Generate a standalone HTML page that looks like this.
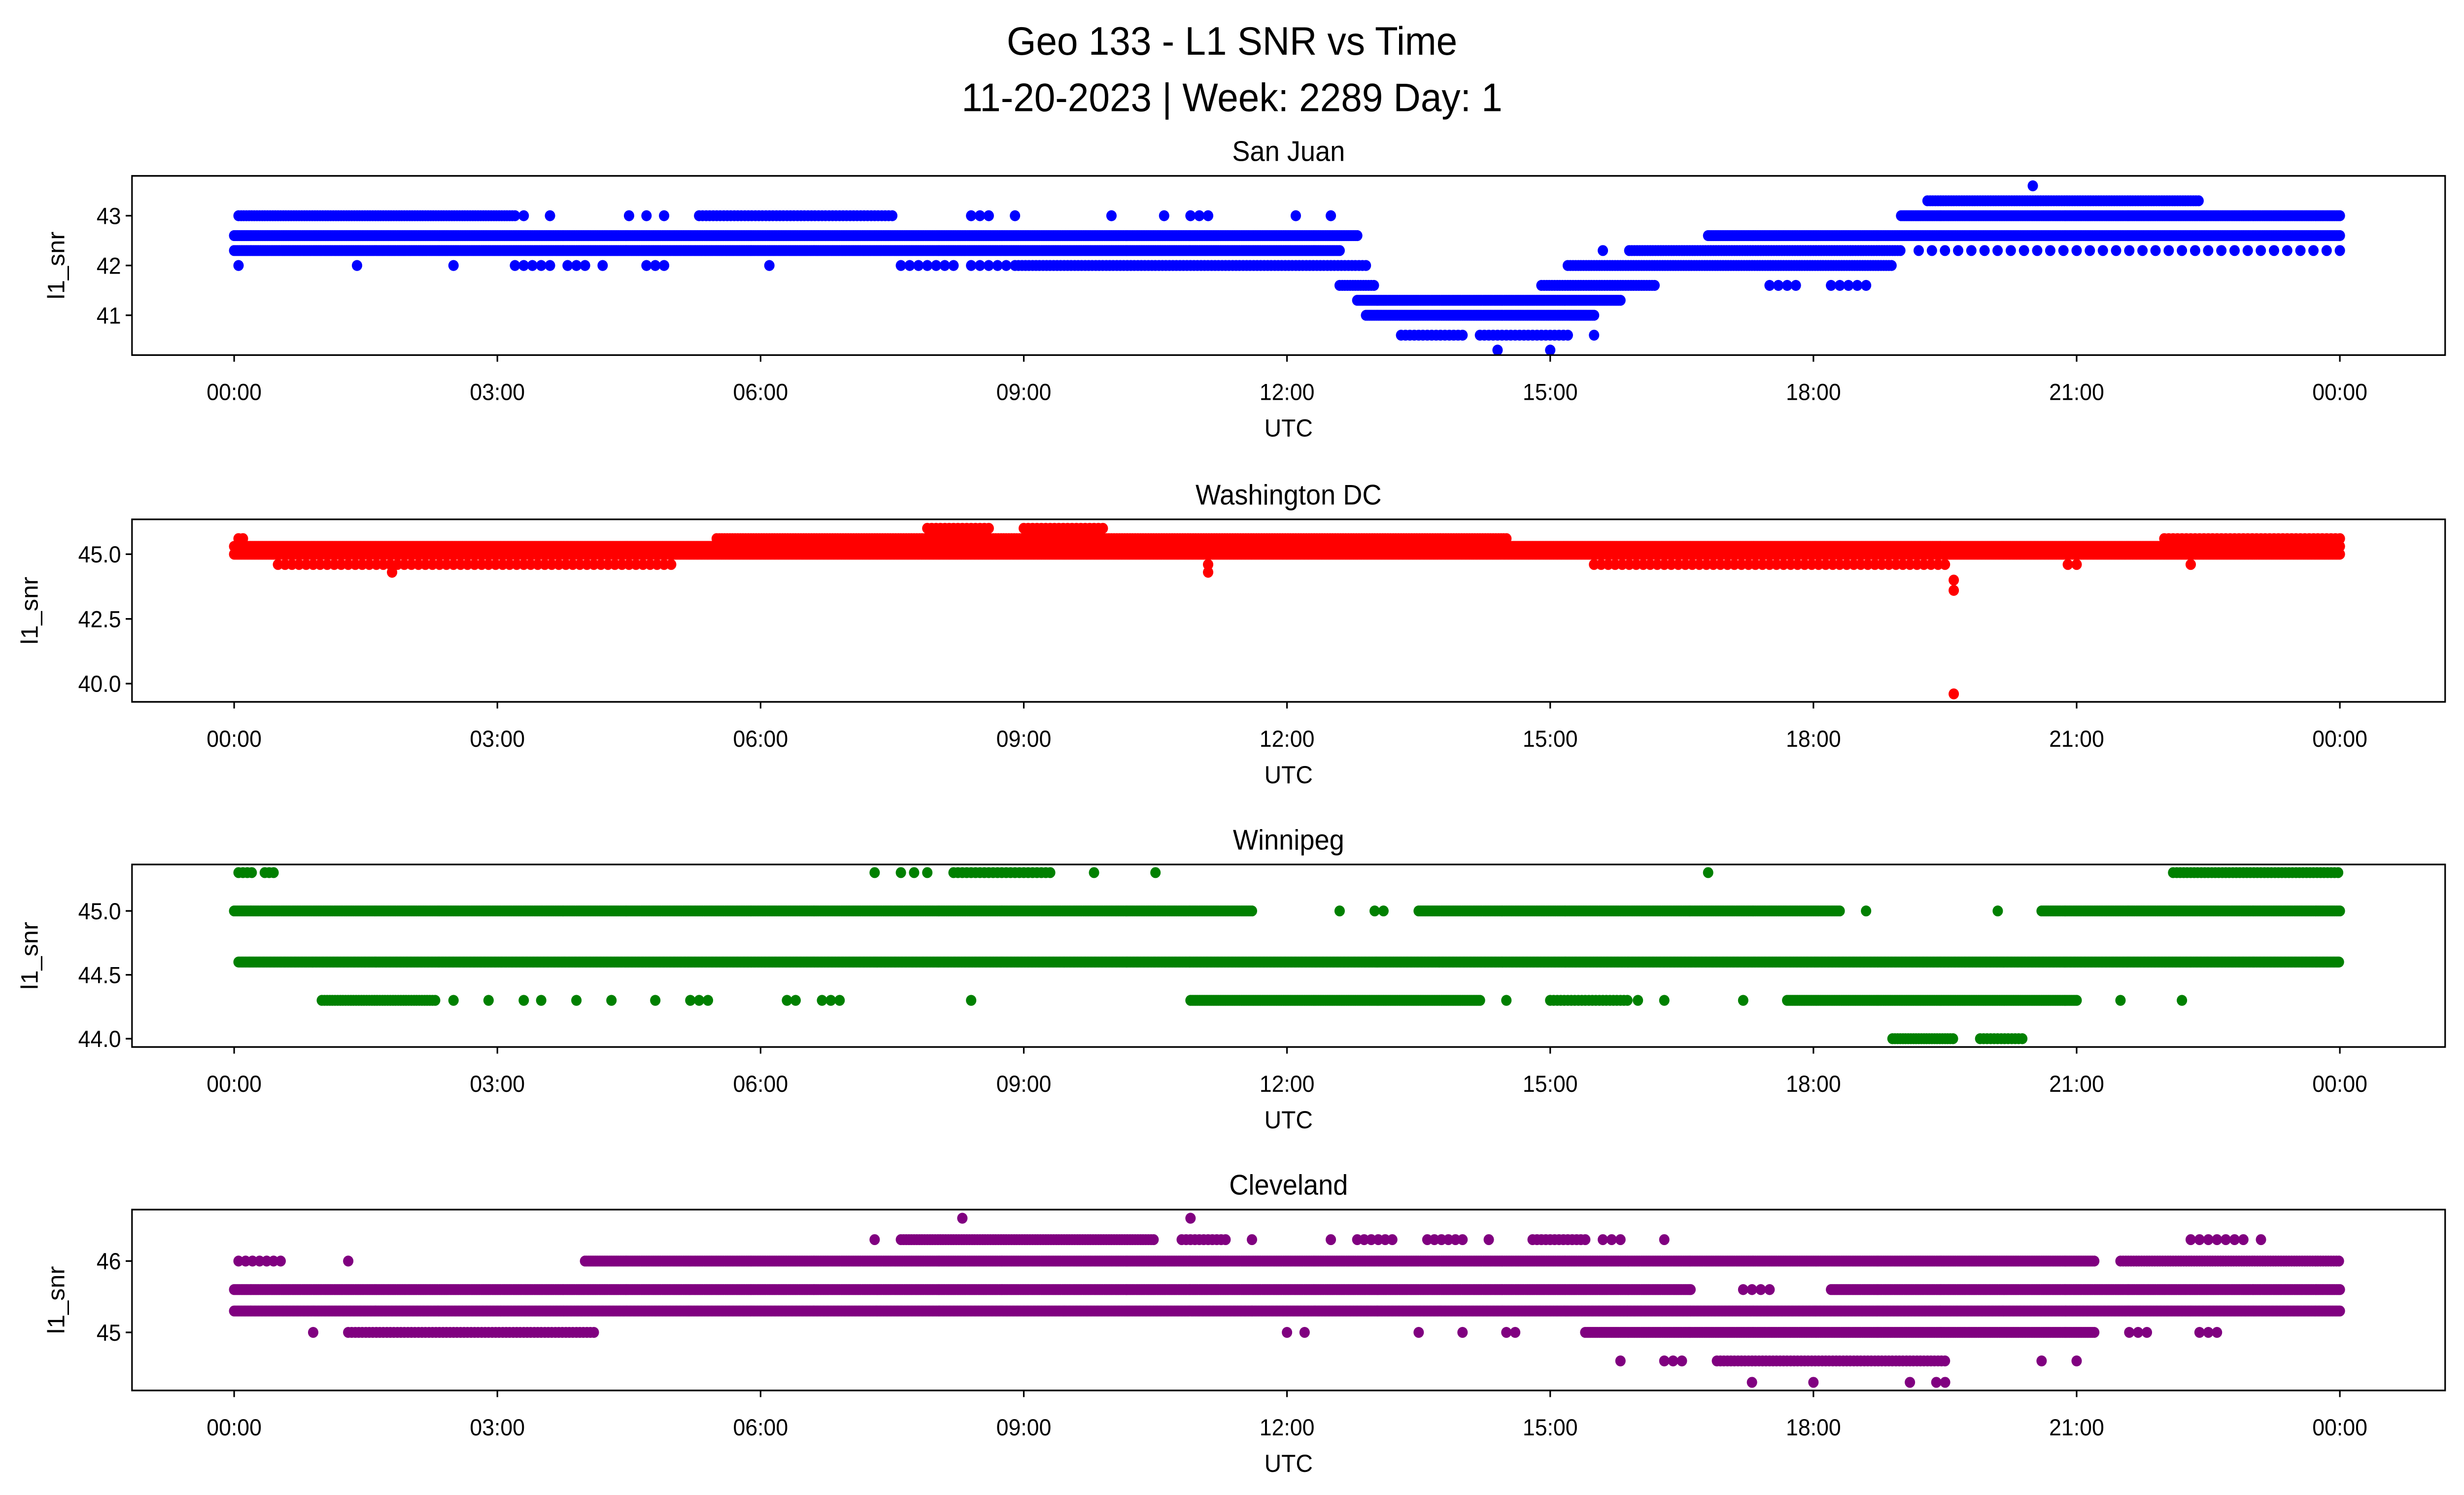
<!DOCTYPE html>
<html><head><meta charset="utf-8"><style>
html,body{margin:0;padding:0;background:#fff;width:100%;height:100%;overflow:hidden}
svg{display:block;position:absolute;left:0;top:0;width:100vw;height:100vh}
text{font-family:"Liberation Sans","DejaVu Sans",sans-serif;fill:#000}
</style></head><body>
<svg id="fig" viewBox="0 0 1568 901" preserveAspectRatio="none" xmlns="http://www.w3.org/2000/svg">
<rect width="1568" height="901" fill="#fff"/>
<text x="784" y="33" font-size="24" text-anchor="middle">Geo 133 - L1 SNR vs Time</text>
<text x="784" y="67" font-size="24" text-anchor="middle">11-20-2023 | Week: 2289 Day: 1</text>
<g id="plots"></g>
</svg>
<script>
// x ticks (hours)
const xTickHours=[0,3,6,9,12,15,18,21,24];
const xTickLabels=["00:00","03:00","06:00","09:00","12:00","15:00","18:00","21:00","00:00"];
const titles=["San Juan","Washington DC","Winnipeg","Cleveland"];
const colors=["#0000ff","#ff0000","#008000","#800080"];
const yTicks=[[43,42,41],[45,42.5,40],[45,44.5,44],[46,45]];
const yTickLabels=[["43","42","41"],["45.0","42.5","40.0"],["45.0","44.5","44.0"],["46","45"]];
// series segments: [snr level, start hour, end hour, sampling step hours]
const sanJuan=[[42.6,0,12.8,0.02],[42.3,0,12.6,0.02],[43.0,0.05,3.2,0.03],[43.0,3.3,3.6,0.3],[43.0,4.5,4.9,0.2],[43.0,5.3,7.5,0.04],[43.0,8.4,8.6,0.1],[43.0,8.9,8.9,1],[43.0,10.0,10.0,1],[43.0,10.6,10.6,1],[43.0,10.9,11.1,0.1],[43.0,12.1,12.1,1],[43.0,12.5,12.5,1],
[42.0,0.05,0.05,1],[42.0,1.4,1.4,1],[42.0,2.5,2.5,1],[42.0,3.2,3.6,0.1],[42.0,3.8,4.0,0.1],[42.0,4.2,4.2,1],[42.0,4.7,4.9,0.1],[42.0,6.1,6.1,1],[42.0,7.6,8.2,0.1],[42.0,8.4,8.8,0.1],[42.0,8.9,12.9,0.04],
[41.6,12.6,13.0,0.03],[41.3,12.8,15.8,0.02],[41.0,12.9,15.5,0.02],[40.6,13.3,14.0,0.05],[40.6,14.2,15.2,0.05],[40.6,15.5,15.5,1],[40.3,14.4,14.4,1],[40.3,15.0,15.0,1],
[41.6,14.9,16.2,0.03],[42.0,15.2,18.9,0.03],[42.3,15.9,19.0,0.03],[42.3,19.2,24,0.15],[42.6,16.8,24,0.02],[43.0,19.0,24,0.02],[43.3,19.3,22.4,0.03],[43.6,20.5,20.5,1],[41.6,17.5,17.8,0.1],[41.6,18.2,18.6,0.1],[42.3,15.6,15.6,1]];
const dc=[[45.0,0,24,0.015],[45.3,0,24,0.015],[45.6,0.05,0.1,0.05],[45.6,5.5,14.5,0.03],[45.6,22,24,0.05],[46.0,7.9,8.6,0.05],[46.0,9.0,9.9,0.05],[44.6,0.5,5.0,0.08],[44.6,15.5,19.5,0.08],[44.6,11.1,11.1,1],[44.6,20.9,21.0,0.1],[44.6,22.3,22.3,1],[44.3,1.8,1.8,1],[44.3,11.1,11.1,1],[44.0,19.6,19.6,1],[43.6,19.6,19.6,1],[39.6,19.6,19.6,1]];
const winnipeg=[[44.6,0.05,24,0.015],[45.0,0,11.6,0.02],[45.0,12.6,12.6,1],[45.0,13.0,13.1,0.1],[45.0,13.5,18.3,0.02],[45.0,18.6,18.6,1],[45.0,20.1,20.1,1],[45.0,20.6,24,0.02],
[44.3,1.0,2.3,0.03],[44.3,2.5,2.5,1],[44.3,2.9,2.9,1],[44.3,3.3,3.5,0.2],[44.3,3.9,3.9,1],[44.3,4.3,4.3,1],[44.3,4.8,4.8,1],[44.3,5.2,5.4,0.1],[44.3,6.3,6.4,0.1],[44.3,6.7,6.9,0.1],[44.3,8.4,8.4,1],[44.3,10.9,14.2,0.02],[44.3,14.5,14.5,1],[44.3,15.0,15.9,0.04],[44.3,16.0,16.3,0.3],[44.3,17.2,17.2,1],[44.3,17.7,21.0,0.02],[44.3,21.5,21.5,1],[44.3,22.2,22.2,1],
[45.3,0.05,0.2,0.05],[45.3,0.35,0.45,0.05],[45.3,7.3,7.3,1],[45.3,7.6,8.0,0.15],[45.3,8.2,9.3,0.05],[45.3,9.8,9.8,1],[45.3,10.5,10.5,1],[45.3,16.8,16.8,1],[45.3,22.1,24,0.04],
[44.0,18.9,19.6,0.03],[44.0,19.9,20.4,0.04]];
const cleveland=[[45.6,0,16.6,0.02],[45.6,17.2,17.5,0.1],[45.6,18.2,24,0.02],[45.3,0,24,0.015],[46.0,0.05,0.6,0.08],[46.0,1.3,1.3,1],[46.0,4.0,21.2,0.02],[46.0,21.5,24,0.03],
[45.0,0.9,0.9,1],[45.0,1.3,4.1,0.04],[45.0,12.0,12.3,0.2],[45.0,13.5,13.5,1],[45.0,14.0,14.0,1],[45.0,14.5,14.6,0.1],[45.0,15.4,21.2,0.02],[45.0,21.6,21.8,0.1],[45.0,22.4,22.6,0.1],
[46.3,7.3,7.3,1],[46.3,7.6,10.5,0.03],[46.3,10.8,11.3,0.05],[46.3,11.6,11.6,1],[46.3,12.5,12.5,1],[46.3,12.8,13.2,0.08],[46.3,13.6,14.0,0.08],[46.3,14.3,14.3,1],[46.3,14.8,15.4,0.05],[46.3,15.6,15.8,0.1],[46.3,16.3,16.3,1],[46.3,22.3,22.9,0.1],[46.3,23.1,23.1,1],
[46.6,8.3,8.3,1],[46.6,10.9,10.9,1],[44.6,15.8,15.8,1],[44.6,16.3,16.5,0.1],[44.6,16.9,19.5,0.04],[44.6,20.6,20.6,1],[44.6,21.0,21.0,1],[44.3,17.3,17.3,1],[44.3,18.0,18.0,1],[44.3,19.1,19.1,1],[44.3,19.4,19.5,0.1]];
const seriesList=[sanJuan,dc,winnipeg,cleveland];
// layout
const boxes=[[106,214],[313,423],[521,631],[729,838]];
const yRef=[[43,130,30],[45,334,15.6],[45,549,77],[46,760,43]];
const X0=84,X1=1556,xZero=149,pxPerHour=(1489-149)/24;
const NS="http://www.w3.org/2000/svg";
const root=document.getElementById("plots");
function el(tag,attrs,parent){const e=document.createElementNS(NS,tag);for(const k in attrs)e.setAttribute(k,attrs[k]);(parent||root).appendChild(e);return e;}
function xs(h){return xZero+h*pxPerHour;}
for(let p=0;p<4;p++){
  const [top,bot]=boxes[p];
  const ys=v=>yRef[p][1]-(v-yRef[p][0])*yRef[p][2];
  const g=el("g",{});
  
  
  const pts=el("g",{fill:colors[p]},g);
  
  
  for(const [v,a,b,s] of seriesList[p]){
    for(let h=a;h<=b+1e-9;h+=s){
      const c=el("circle",{cx:xs(h).toFixed(1),cy:ys(v).toFixed(1),r:3.3},pts);
      
      
    }
  }
  const frame=el("rect",{x:X0,y:top,width:X1-X0,height:bot-top,fill:"none",stroke:"#000","stroke-width":1},g);
  
  
  const t=el("text",{x:820,y:top-9,"font-size":17,"text-anchor":"middle"},g);t.textContent=titles[p];
  
  
  xTickHours.forEach((h,i)=>{
    el("line",{x1:xs(h),x2:xs(h),y1:bot,y2:bot+4,stroke:"#000"},g);
    const tl=el("text",{x:xs(h),y:bot+27,"font-size":14,"text-anchor":"middle"},g);tl.textContent=xTickLabels[i];
    
    
  });
  const xl=el("text",{x:820,y:bot+49,"font-size":15,"text-anchor":"middle"},g);xl.textContent="UTC";
  
  
  yTicks[p].forEach((v,i)=>{
    el("line",{x1:X0-4,x2:X0,y1:ys(v),y2:ys(v),stroke:"#000"},g);
    const tl=el("text",{x:X0-7,y:ys(v)+5,"font-size":14,"text-anchor":"end"},g);tl.textContent=yTickLabels[p][i];
    
    
  });
  const lx=(p==1||p==2)?24:41;const ly=(top+bot)/2;
  const yl=el("text",{x:lx,y:ly,"font-size":15,"text-anchor":"middle",transform:`rotate(-90 ${lx} ${ly})`},g);yl.textContent="l1_snr";
  
  
}
</script>
</body></html>
